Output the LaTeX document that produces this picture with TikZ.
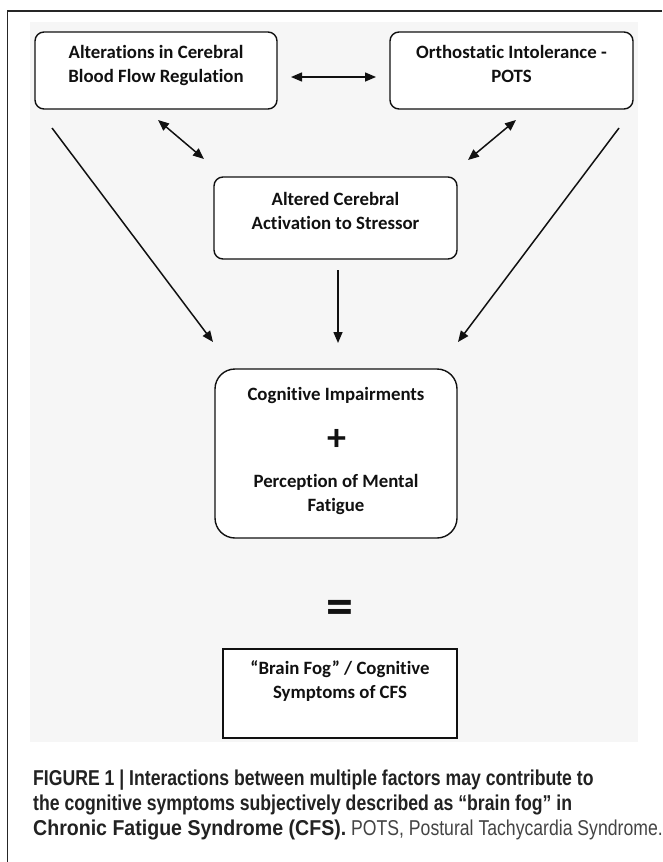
\documentclass[tikz,border=0pt]{standalone}
\usepackage{fontspec}
\setmainfont[Ligatures=NoCommon]{Carlito}
\newfontfamily\capfont[FakeStretch=0.82]{Liberation Sans}
\newfontfamily\capwide[FakeStretch=0.91]{Liberation Sans}
\usetikzlibrary{arrows.meta}
\definecolor{bgc}{HTML}{F6F6F6}
\definecolor{ink}{HTML}{111111}
\definecolor{capink}{HTML}{222222}
\definecolor{capreg}{HTML}{444444}
\tikzset{
  box/.style={draw=ink, line width=1.4pt, fill=white, rounded corners=9pt, inner sep=0pt},
  txt/.style={font=\bfseries\fontsize{18.8}{24}\selectfont, align=center, text=ink, inner sep=0pt, anchor=north},
  arr/.style={line width=1.5pt, draw=ink, -{Triangle[length=11pt,width=9pt]}},
  darr/.style={line width=1.5pt, draw=ink, {Triangle[length=11pt,width=9pt]}-{Triangle[length=11pt,width=9pt]}}
}
\newcommand{\fstrut}{\rule{0pt}{13pt}}
\begin{document}
\begin{tikzpicture}[x=1pt,y=-1pt]
\useasboundingbox (0,0) rectangle (662,862);
\fill[white] (0,0) rectangle (662,862);
\fill[bgc] (30,22) rectangle (638,742);
\draw[line width=1.5pt, black!85] (662,11) -- (7.5,11) -- (7.5,862);

% boxes
\node[box, minimum width=242pt, minimum height=77pt] (A) at (156,70.5) {};
\node[txt] (At) at (156,45) {\fstrut Alterations in Cerebral\\Blood Flow Regulation};
\node[box, minimum width=243pt, minimum height=77pt] (B) at (511.5,70.5) {};
\node[txt] (Bt) at (511.5,45) {\fstrut Orthostatic Intolerance -\\POTS};
\node[box, minimum width=243pt, minimum height=82pt] (C) at (335.5,218) {};
\node[txt] (Ct) at (335.5,192) {\fstrut Altered Cerebral\\Activation to Stressor};
\node[box, rounded corners=20pt, minimum width=242pt, minimum height=169pt] (D) at (336,453.5) {};
\node[txt] (Dt1) at (336,387) {\fstrut Cognitive Impairments};
\node[font=\bfseries\fontsize{38}{38}\selectfont, text=ink, inner sep=0pt] (plus) at (337,440) {+};
\node[txt] (Dt2) at (336,474) {\fstrut Perception of Mental\\Fatigue};
\node[font=\bfseries\fontsize{54}{54}\selectfont, text=ink, inner sep=0pt] (eq) at (340,612) {=};
\node[box, rounded corners=0pt, minimum width=234pt, minimum height=89pt] (E) at (340,693.5) {};
\node[txt] (Et) at (340,660) {\fstrut “Brain Fog” / Cognitive\\Symptoms of CFS};

% connector end points
\coordinate (ab1) at (291,77);  \coordinate (ab2) at (376,77);
\coordinate (ac1) at (158,120); \coordinate (ac2) at (204,159);
\coordinate (bc1) at (516,120); \coordinate (bc2) at (468,160);
\coordinate (cd1) at (338,270); \coordinate (cd2) at (338,343);
\coordinate (ad1) at (52,128);  \coordinate (ad2) at (213,342);
\coordinate (bd1) at (619,128); \coordinate (bd2) at (458,342);

\draw[darr] (ab1) -- (ab2);
\draw[darr] (ac1) -- (ac2);
\draw[darr] (bc1) -- (bc2);
\draw[arr] (cd1) -- (cd2);
\draw[arr] (ad1) -- (ad2);
\draw[arr] (bd1) -- (bd2);

% caption
\node[anchor=north west, inner sep=0pt, align=left, text=capink,
      font=\capfont\bfseries\fontsize{21.5}{25}\selectfont] (cap) at (33,769)
  {\rule{0pt}{16pt}FIGURE 1 | Interactions between multiple factors may contribute to\\
   the cognitive symptoms subjectively described as “brain fog” in\\
   {\capwide\bfseries Chronic Fatigue Syndrome (CFS).} {\capfont\mdseries\color{capreg}POTS, Postural Tachycardia Syndrome.}};
\end{tikzpicture}
\end{document}
